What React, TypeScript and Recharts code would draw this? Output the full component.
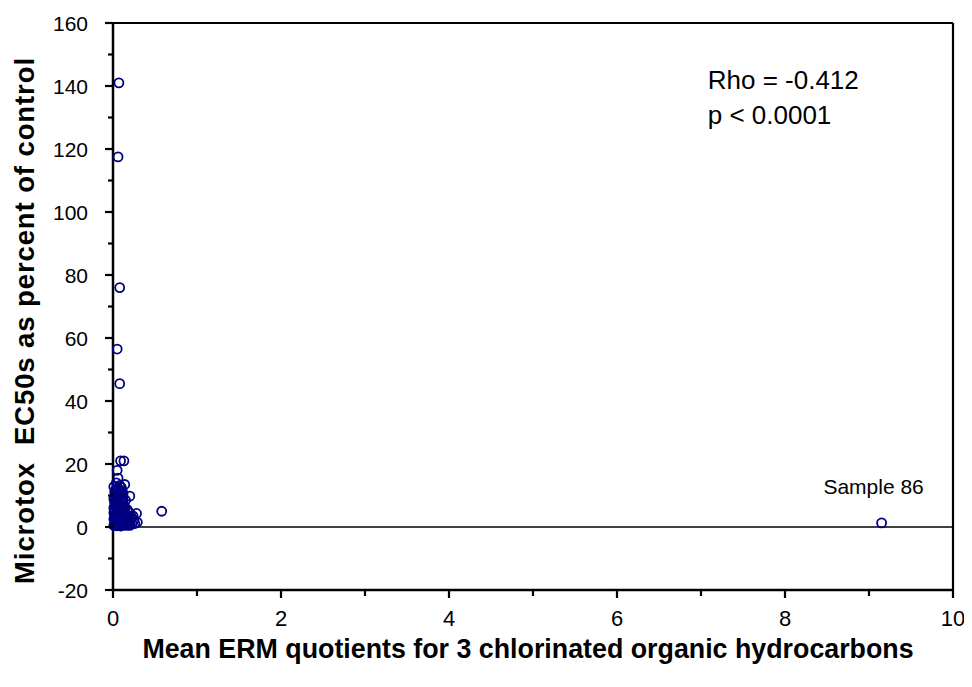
import React from "react"
import {
  ScatterChart,
  Scatter,
  XAxis,
  YAxis,
  ReferenceLine,
  ReferenceDot,
} from "recharts"

// Mean ERM quotient (x) and Microtox EC50 as % of control (y)
const ermQuotient = [
  0.07, 0.06, 0.08, 0.05, 0.08, 0.09, 0.13, 0.05, 0.06, 0.14,
  0.1, 0.04, 0.08, 0.12, 0.2, 0.03, 0.06, 0.1, 0.15, 0.02,
  0.05, 0.09, 0.13, 0.03, 0.07, 0.11, 0.17, 0.02, 0.05, 0.09,
  0.14, 0.2, 0.28, 0.58, 0.03, 0.07, 0.11, 0.16, 0.22, 0.02,
  0.05, 0.09, 0.13, 0.18, 0.25, 0.29, 0.03, 0.06, 0.1, 0.14,
  0.19, 0.23, 0.02, 0.05, 0.08, 0.12, 0.16, 0.2, 0.04, 0.09,
  0.01, 0.01, 0.01, 0.01, 0.04, 0.02, 0.11, 0.17, 0.24, 0.26,
  0.02, 0.04, 0.06, 0.08, 0.1, 0.12, 0.01, 0.03, 0.05, 0.07,
  0.09, 0.11, 0.13, 0.15, 0.02, 0.04, 0.06, 0.08, 0.1, 0.12,
  0.14, 0.16, 0.18, 0.03, 0.05, 0.07, 0.09, 0.11, 0.13, 0.15,
  0.17, 0.19, 0.21, 0.01, 0.03, 0.06, 0.08, 0.1, 0.12, 0.02,
  0.04, 0.07, 0.09, 0.14, 0.06, 0.08, 0.03, 0.05, 0.1, 0.12,
  9.15,
]
const ec50Percent = [
  141, 117.5, 76, 56.5, 45.5, 21, 21, 18, 15.5, 13.5,
  12.5, 12, 11, 10.5, 9.8, 10, 9.5, 9, 8.5, 8,
  7.5, 7.5, 7, 6.5, 6, 6, 5.5, 5, 5, 5,
  4.8, 4.5, 4.3, 5, 4, 4, 3.8, 3.5, 3.2, 3,
  3, 2.8, 2.6, 2.5, 2.2, 1.5, 2, 1.8, 1.6, 1.5,
  1.2, 1, 1, 0.8, 0.7, 0.6, 0.5, 0.5, 0.4, 0.3,
  0.5, 2.5, 6, 9, 14, 11, 11.5, 2.5, 3.5, 1.1,
  0.6, 0.9, 0.5, 1.2, 0.8, 1.9, 4.5, 1.4, 2.2, 3.3,
  3.9, 2.4, 4.4, 2.9, 7.2, 8.3, 6.8, 5.6, 4.6, 3.1,
  6.3, 1.8, 0.9, 9.2, 10.6, 8.7, 6.6, 7.9, 5.2, 4.1,
  3.7, 3.4, 2.1, 12.8, 11.8, 12.3, 13.2, 10.2, 8.9, 3.6,
  7.1, 9.9, 11.3, 5.9, 1.3, 2.6, 0.8, 1.6, 0.4, 3.0,
  1.3,
]

const xTicks = [0, 1, 2, 3, 4, 5, 6, 7, 8, 9, 10]
const yTicks = [-20, -10, 0, 10, 20, 30, 40, 50, 60, 70, 80, 90, 100, 110, 120, 130, 140, 150, 160]

const rhoText = "Rho = -0.412"
const pText = "p < 0.0001"
const outlierLabel = "Sample 86"

const data = ermQuotient.map((x, i) => ({ x, y: ec50Percent[i] }))

const FONT = '"Liberation Sans", Arial, Helvetica, sans-serif'
const NAVY = "#000080"

const Y_TICK_SIZE = 8
const Y_TICK_MARGIN = 17
const X_TICK_SIZE = 8
const X_TICK_MARGIN = 12

function YTick(props: any) {
  const { x, y, payload } = props
  const v = payload.value
  const major = v % 20 === 0
  const axisX = x + Y_TICK_SIZE + Y_TICK_MARGIN
  return (
    <g>
      <line x1={axisX} x2={axisX - (major ? 8 : 5)} y1={y} y2={y} stroke="#000" strokeWidth={2.2} />
      {major && (
        <text x={x} y={y} dy="0.36em" textAnchor="end" fontSize={21} fontFamily={FONT} fill="#000">
          {v}
        </text>
      )}
    </g>
  )
}

function XTick(props: any) {
  const { x, y, payload } = props
  const v = payload.value
  const major = v % 2 === 0
  const axisY = y - X_TICK_SIZE - X_TICK_MARGIN
  return (
    <g>
      <line x1={x} x2={x} y1={axisY} y2={axisY + (major ? 8 : 6)} stroke="#000" strokeWidth={2.2} />
      {major && (
        <text x={x} y={y} dy="0.72em" textAnchor="middle" fontSize={22} fontFamily={FONT} fill="#000">
          {v}
        </text>
      )}
    </g>
  )
}

const hollowCircle = (props: any) => (
  <circle cx={props.cx} cy={props.cy} r={4.5} fill="none" stroke={NAVY} strokeWidth={1.8} />
)

export default function App() {
  return (
    <ScatterChart
      width={960}
      height={672}
      margin={{ top: 15, right: 15, left: 35, bottom: 50 }}
      style={{ fontFamily: FONT }}
    >
      <XAxis
        type="number"
        dataKey="x"
        domain={[0, 10]}
        ticks={xTicks}
        interval={0}
        height={40}
        tickSize={X_TICK_SIZE}
        tickMargin={X_TICK_MARGIN}
        tickLine={false}
        axisLine={{ stroke: "#000", strokeWidth: 2.5 }}
        tick={XTick}
        label={(p: any) => {
          const vb = p.viewBox || {}
          const cx = (vb.x ?? 105) + (vb.width ?? 840) / 2
          return (
            <text x={cx - 5} y={641} textAnchor="middle" dominantBaseline="central" fontSize={26.8} fontWeight="bold" fontFamily={FONT} fill="#000">
              Mean ERM quotients for 3 chlorinated organic hydrocarbons
            </text>
          )
        }}
      />
      <YAxis
        type="number"
        dataKey="y"
        domain={[-20, 160]}
        ticks={yTicks}
        interval={0}
        width={70}
        tickSize={Y_TICK_SIZE}
        tickMargin={Y_TICK_MARGIN}
        tickLine={false}
        axisLine={{ stroke: "#000", strokeWidth: 2.5 }}
        tick={YTick}
        label={(p: any) => {
          const vb = p.viewBox || {}
          const cy = (vb.y ?? 15) + (vb.height ?? 567) / 2 + 14
          return (
            <text
              x={16}
              y={cy}
              transform={`rotate(-90, 16, ${cy})`}
              textAnchor="middle"
              dominantBaseline="central"
              fontSize={27.5}
              letterSpacing={0.9}
              fontWeight="bold"
              fontFamily={FONT}
              fill="#000"
              style={{ whiteSpace: "pre" }}
            >
              {"Microtox  EC50s as percent of control"}
            </text>
          )
        }}
      />
      <ReferenceLine y={0} stroke="#000" strokeWidth={1.4} />
      <ReferenceLine y={160} stroke="#000" strokeWidth={2.2} />
      <ReferenceLine x={10} stroke="#000" strokeWidth={2.2} />
      <Scatter data={data} shape={hollowCircle} isAnimationActive={false} />
      <ReferenceDot
        x={7.08}
        y={142}
        r={0}
        fill="none"
        stroke="none"
        label={(p: any) => {
          const vb = p.viewBox || {}
          return (
            <g fontSize={26} fontFamily={FONT} fill="#000">
              <text x={vb.x} y={vb.y} dominantBaseline="central">{rhoText}</text>
              <text x={vb.x} y={vb.y + 35} dominantBaseline="central">{pText}</text>
            </g>
          )
        }}
      />
      <ReferenceDot
        x={9.15}
        y={1.3}
        r={0}
        fill="none"
        stroke="none"
        label={(p: any) => {
          const vb = p.viewBox || {}
          return (
            <text x={vb.x - 8} y={vb.y - 36} textAnchor="middle" dominantBaseline="central" fontSize={21} fontFamily={FONT} fill="#000">
              {outlierLabel}
            </text>
          )
        }}
      />
    </ScatterChart>
  )
}
